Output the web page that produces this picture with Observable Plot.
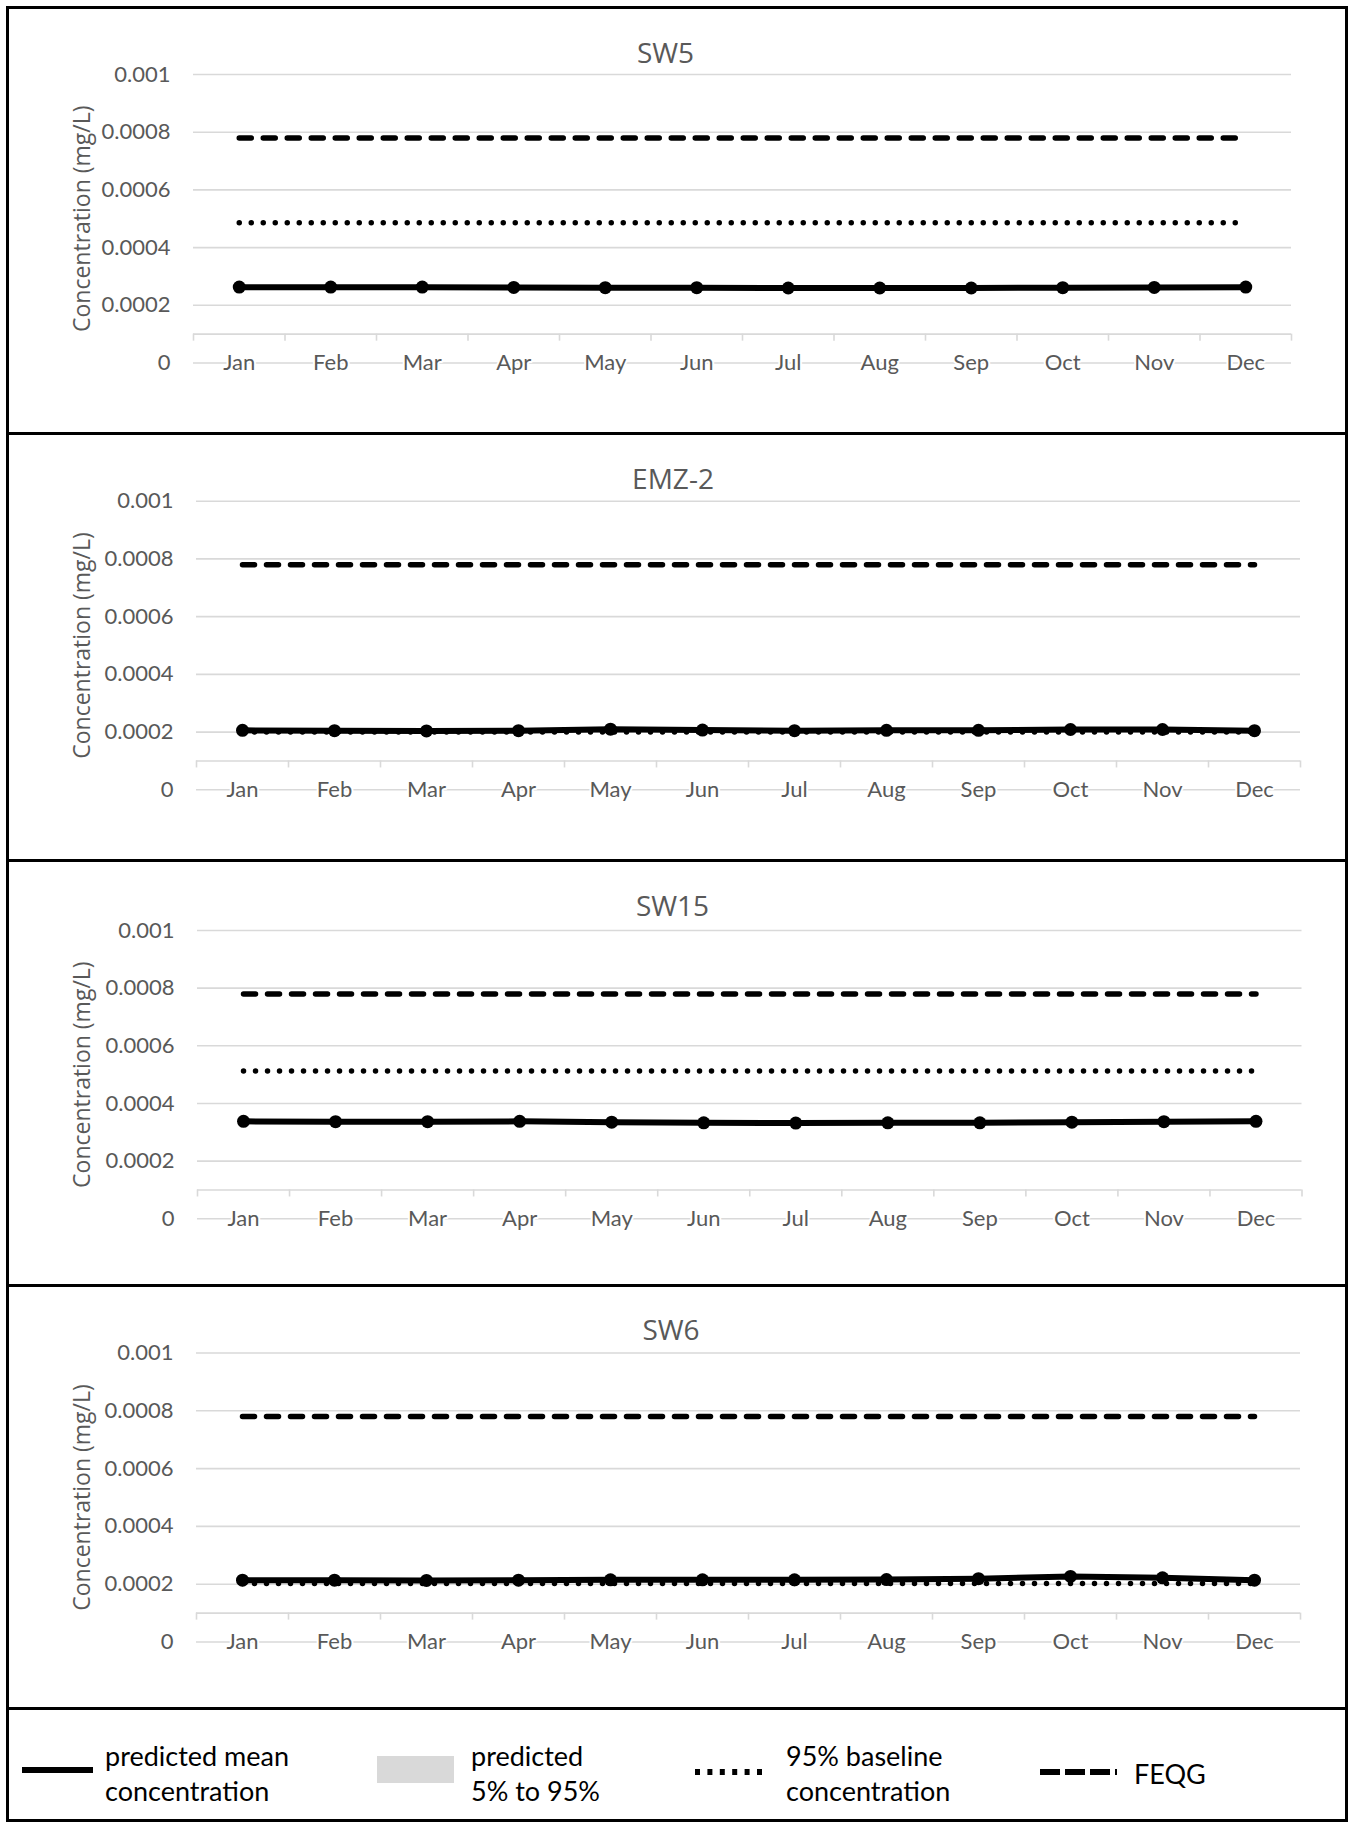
<!DOCTYPE html>
<html>
<head>
<meta charset="utf-8">
<script src="https://cdn.jsdelivr.net/npm/d3@7"></script>
<script src="https://cdn.jsdelivr.net/npm/@observablehq/plot@0.6"></script>
<style>
  html, body { margin: 0; padding: 0; background: #fff; }
  #root { position: relative; width: 1348px; height: 1822px; overflow: hidden; background: #fff; }
  .panel { position: absolute; left: 0; }
  .bar { position: absolute; background: #000; z-index: 5; }
  .leg { position: absolute; font-family: Lato, "Open Sans", sans-serif; font-size: 27px; line-height: 35px; color: #000; white-space: nowrap; }
  .sw { position: absolute; }
</style>
</head>
<body>
<div id="root"></div>
<script>
// ---------- data ----------
const months = ["Jan","Feb","Mar","Apr","May","Jun","Jul","Aug","Sep","Oct","Nov","Dec"];
const sites = ["SW5", "EMZ-2", "SW15", "SW6"];
const yTicks = [0, 0.0002, 0.0004, 0.0006, 0.0008, 0.001];
const yLabel = "Concentration (mg/L)";

const meanSW5  = [0.000263,0.000263,0.000263,0.000262,0.000261,0.000261,0.000260,0.000260,0.000260,0.000261,0.000262,0.000263];
const meanEMZ2 = [0.000206,0.000205,0.000204,0.000205,0.000210,0.000207,0.000205,0.000206,0.000206,0.000209,0.000209,0.000205];
const meanSW15 = [0.000338,0.000337,0.000337,0.000338,0.000335,0.000333,0.000332,0.000333,0.000333,0.000335,0.000337,0.000338];
const meanSW6  = [0.000214,0.000214,0.000213,0.000214,0.000215,0.000215,0.000215,0.000216,0.000219,0.000227,0.000222,0.000214];

const p05SW5  = [0.000261,0.000261,0.000261,0.000260,0.000259,0.000259,0.000258,0.000258,0.000258,0.000259,0.000260,0.000261];
const p95SW5  = [0.000265,0.000265,0.000265,0.000264,0.000263,0.000263,0.000262,0.000262,0.000262,0.000263,0.000264,0.000265];
const p05EMZ2 = [0.000204,0.000203,0.000202,0.000203,0.000207,0.000205,0.000203,0.000204,0.000204,0.000207,0.000207,0.000203];
const p95EMZ2 = [0.000208,0.000207,0.000206,0.000207,0.000213,0.000209,0.000207,0.000208,0.000208,0.000212,0.000212,0.000207];
const p05SW15 = [0.000336,0.000335,0.000335,0.000336,0.000333,0.000331,0.000330,0.000331,0.000331,0.000333,0.000335,0.000336];
const p95SW15 = [0.000340,0.000339,0.000339,0.000340,0.000337,0.000335,0.000334,0.000335,0.000335,0.000337,0.000339,0.000340];
const p05SW6  = [0.000212,0.000212,0.000211,0.000212,0.000213,0.000213,0.000213,0.000214,0.000216,0.000223,0.000219,0.000212];
const p95SW6  = [0.000216,0.000216,0.000215,0.000216,0.000217,0.000217,0.000217,0.000219,0.000223,0.000233,0.000229,0.000217];

const baseline95 = [0.000486, 0.000200, 0.000513, 0.000202];
const feqg = [0.00078, 0.00078, 0.00078, 0.00078];

const means = [meanSW5, meanEMZ2, meanSW15, meanSW6];
const p05s = [p05SW5, p05EMZ2, p05SW15, p05SW6];
const p95s = [p95SW5, p95EMZ2, p95SW15, p95SW6];

// ---------- layout (pixels) ----------
const layout = [
  {top: 0,    h: 433, mt: 74,   mb: 70.5, ml: 193, mr: 57,   tx: 665,   ty: 54},
  {top: 433,  h: 427, mt: 67.7, mb: 70.7, ml: 196, mr: 48,   tx: 672.5, ty: 480},
  {top: 860,  h: 425, mt: 70,   mb: 66.7, ml: 197, mr: 46.5, tx: 672,   ty: 907},
  {top: 1285, h: 423, mt: 67.5, mb: 66.5, ml: 196, mr: 48,   tx: 670.5, ty: 1330.7}
];

const grey = "#d9d9d9";
const textGrey = "#595959";
const calib = "Lato, 'Open Sans', sans-serif";
const segoe = "'Open Sans', 'Noto Sans', sans-serif";
const fmt = d => d === 0 ? "0" : String(+d.toFixed(4));
const root = document.getElementById("root");

sites.forEach((site, k) => {
  const L = layout[k];
  const mean = means[k], lo = p05s[k], hi = p95s[k];
  const xi = (d, i) => i + 0.5;
  const chart = Plot.plot({
    width: 1348,
    height: L.h,
    marginTop: L.mt, marginBottom: L.mb, marginLeft: L.ml, marginRight: L.mr,
    x: {type: "linear", domain: [0, 12], axis: null},
    y: {type: "linear", domain: [0, 0.001], axis: null},
    style: {fontFamily: calib, background: "transparent", overflow: "visible"},
    marks: [
      Plot.ruleY(yTicks, {y: d => d, stroke: grey, strokeWidth: 1.6}),
      Plot.ruleY([0.0001], {y: d => d, stroke: grey, strokeWidth: 1.6}),
      Plot.ruleX(d3.range(13), {x: d => d, y1: 0.0001, y2: 0.0001, insetBottom: -7, stroke: grey, strokeWidth: 1.6}),
      Plot.text(months, {x: xi, y: 0, text: d => d, fill: textGrey, stroke: "white", strokeWidth: 4, paintOrder: "stroke", fontSize: 22, fontFamily: calib}),
      Plot.text(yTicks, {x: 0, y: d => d, text: fmt, textAnchor: "end", dx: -23, fill: textGrey, fontSize: 22, fontFamily: calib}),
      Plot.text([yLabel], {frameAnchor: "left", textAnchor: "middle", lineAnchor: "middle", text: d => d, dx: 82 - L.ml, rotate: -90, fill: textGrey, fontSize: 23, fontFamily: segoe}),
      Plot.text([site], {frameAnchor: "top-left", textAnchor: "middle", lineAnchor: "middle", text: d => d, dx: L.tx - L.ml, dy: L.ty - L.top - L.mt, fill: textGrey, fontSize: 28, fontFamily: segoe}),
      Plot.areaY(months, {x: xi, y1: (d, i) => lo[i], y2: (d, i) => hi[i], fill: grey}),
      Plot.lineY(months, {x: xi, y: () => feqg[k], stroke: "#000", strokeWidth: 5.5, strokeDasharray: "12,12", strokeLinecap: "round"}),
      Plot.lineY(months, {x: xi, y: () => baseline95[k], stroke: "#000", strokeWidth: 5.5, strokeDasharray: "0,12", strokeLinecap: "round"}),
      Plot.lineY(mean, {x: xi, y: d => d, stroke: "#000", strokeWidth: 6, strokeLinejoin: "round"}),
      Plot.dot(mean, {x: xi, y: d => d, r: 6.5, fill: "#000", stroke: "none"})
    ]
  });
  chart.classList.add("panel");
  chart.style.top = L.top + "px";
  root.appendChild(chart);
});

// ---------- borders ----------
function bar(x, y, w, h) {
  const d = document.createElement("div");
  d.className = "bar";
  Object.assign(d.style, {left: x + "px", top: y + "px", width: w + "px", height: h + "px"});
  root.appendChild(d);
}
bar(6, 6, 1342, 3);        // top
bar(6, 6, 3, 1816);        // left
bar(1345, 6, 3, 1816);     // right
bar(6, 1819, 1342, 3);     // bottom
[433, 860, 1285, 1708].forEach(y => bar(6, y - 1.5, 1342, 3));

// ---------- legend ----------
const legendItems = [
  {label: ["predicted mean", "concentration"], x: 105, type: "solid", sx: 22, sw: 71},
  {label: ["predicted", "5% to 95%"], x: 471, type: "band", sx: 377, sw: 77},
  {label: ["95% baseline", "concentration"], x: 786, type: "dot", sx: 695, sw: 67},
  {label: ["FEQG"], x: 1134, type: "dash", sx: 1040, sw: 77}
];
const NS = "http://www.w3.org/2000/svg";
legendItems.forEach(it => {
  const svg = document.createElementNS(NS, "svg");
  svg.setAttribute("class", "sw");
  svg.setAttribute("width", it.sw);
  svg.setAttribute("height", 30);
  svg.style.left = it.sx + "px";
  svg.style.top = "1756px";
  if (it.type === "band") {
    const r = document.createElementNS(NS, "rect");
    r.setAttribute("x", 0); r.setAttribute("y", 0);
    r.setAttribute("width", it.sw); r.setAttribute("height", 27);
    r.setAttribute("fill", grey);
    svg.appendChild(r);
  } else {
    const l = document.createElementNS(NS, "line");
    l.setAttribute("x1", 0); l.setAttribute("x2", it.sw);
    const yy = it.type === "solid" ? 14 : 16;
    l.setAttribute("y1", yy); l.setAttribute("y2", yy);
    l.setAttribute("stroke", "#000");
    l.setAttribute("stroke-width", 6);
    if (it.type === "dot") l.setAttribute("stroke-dasharray", "5,7.4");
    if (it.type === "dash") l.setAttribute("stroke-dasharray", "20,5");
    svg.appendChild(l);
  }
  root.appendChild(svg);
  const t = document.createElement("div");
  t.className = "leg";
  t.style.left = it.x + "px";
  t.style.top = (it.label.length === 1 ? 1755.5 : 1737.5) + "px";
  t.innerHTML = it.label.join("<br>");
  root.appendChild(t);
});
</script>
</body>
</html>
